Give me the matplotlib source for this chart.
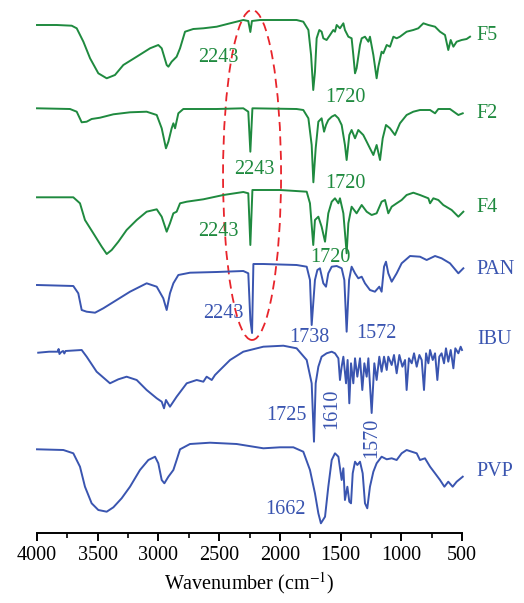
import matplotlib
matplotlib.use("Agg")
from matplotlib import pyplot as plt
from matplotlib.patches import Ellipse

plt.rcParams["font.family"] = ["Liberation Serif", "DejaVu Serif"]
plt.rcParams["mathtext.fontset"] = "stix"

GREEN = "#1f8a3f"
BLUE = "#3a55b0"

# spectra: wavenumber (cm-1) and relative transmittance (a.u.)
f5_wn = [4000, 3838, 3714, 3673, 3618, 3563, 3495, 3426, 3358, 3289, 3179, 3069, 3001,
         2973, 2932, 2918, 2891, 2850, 2822, 2781, 2713, 2630, 2520, 2410, 2301, 2260,
         2243, 2230, 2163, 1862, 1807, 1765, 1743, 1725, 1711, 1697, 1675, 1656, 1642,
         1615, 1587, 1560, 1546, 1532, 1505, 1477, 1464, 1436, 1409, 1395, 1381, 1368,
         1340, 1326, 1299, 1271, 1258, 1230, 1203, 1189, 1162, 1148, 1120, 1093, 1065,
         1038, 1011, 956, 901, 860, 818, 777, 722, 681, 640, 613, 593, 571, 544, 503,
         462, 434]
f5_t = [80, 80, 79.3, 76.7, 63.3, 46.7, 31.7, 26.7, 30, 40, 48.3, 56.7, 60,
        56.7, 40, 38.3, 43.3, 48.3, 56.7, 73.3, 76, 76.7, 78.3, 81.7, 85, 84,
        73, 84, 85, 85, 83.3, 75, 50, 15, 33, 66.7, 75, 73.3, 66.7,
        65, 70, 75, 73.3, 80, 76.7, 81.7, 75, 68.3, 66.7, 50, 31.7, 36.7,
        60, 66.7, 68.3, 63.3, 68.3, 50, 26.7, 38.3, 53.3, 51.7, 60, 58.3, 68.3,
        66.7, 68.3, 73.3, 75, 76.7, 81.7, 80, 78.3, 73.3, 70, 55, 65, 58.3, 63.3, 65,
        66, 68.3]

f2_wn = [4000, 3728, 3673, 3632, 3591, 3550, 3481, 3371, 3234, 3097, 3014, 2973, 2938,
         2918, 2891, 2877, 2863, 2836, 2795, 2520, 2301, 2260, 2243, 2226, 1862, 1807,
         1765, 1738, 1724, 1705, 1683, 1656, 1636, 1620, 1601, 1573, 1546, 1518, 1491,
         1464, 1450, 1428, 1409, 1381, 1354, 1313, 1285, 1258, 1230, 1203, 1175, 1153,
         1126, 1093, 1052, 1011, 956, 901, 846, 763, 722, 695, 599, 530, 494]
f2_t = [86.7, 86, 83.3, 72.7, 73.3, 76, 77.3, 80.7, 82.7, 83.3, 80, 66.7, 46.7,
        53.3, 66.7, 71.7, 66.7, 81.7, 86, 86, 86.7, 83.3, 43.3, 86.7, 86, 85,
        76.7, 50, 12.7, 46.7, 73.3, 76.7, 63.3, 70, 75, 78.3, 80, 76.7, 70,
        50, 35, 60, 65, 56.7, 65, 60, 53.3, 46.7, 40, 50, 35, 56.7,
        70, 66.7, 60, 71.7, 80, 83.3, 85, 85, 81.7, 86, 86, 80, 81.7]

f4_wn = [4000, 3701, 3646, 3605, 3536, 3467, 3426, 3385, 3330, 3262, 3179, 3097, 3014,
         2973, 2932, 2905, 2877, 2850, 2822, 2767, 2630, 2465, 2301, 2260, 2243, 2226,
         1999, 1779, 1752, 1725, 1711, 1683, 1656, 1628, 1601, 1573, 1546, 1518, 1505,
         1477, 1450, 1436, 1409, 1368, 1326, 1285, 1244, 1203, 1162, 1134, 1107, 1079,
         1038, 997, 956, 901, 846, 777, 763, 736, 695, 654, 585, 530, 489]
f4_t = [72.7, 72.7, 66.7, 50, 36.7, 23.3, 16, 20, 28.3, 40, 50, 58.3, 60.7,
        53.3, 38.3, 46.7, 56.7, 58.3, 66.7, 68.3, 70.7, 75, 78, 76.7, 25, 80,
        80, 78.3, 66.7, 25, 50, 53.3, 43.3, 28.3, 56.7, 68.3, 71.7, 66.7, 71.7,
        56.7, 16.7, 46.7, 63.3, 56.7, 65, 58.3, 55, 56.7, 68.3, 70, 56.7, 63.3,
        66.7, 70, 75, 77.3, 75, 71.7, 66.7, 71.7, 70, 65, 60, 53.3, 58.3]

pan_wn = [4000, 3701, 3660, 3632, 3591, 3522, 3454, 3344, 3234, 3097, 3014, 2960, 2932,
          2905, 2877, 2836, 2740, 2520, 2301, 2260, 2243, 2229, 2218, 2136, 1862, 1779,
          1752, 1738, 1711, 1691, 1670, 1642, 1620, 1601, 1573, 1532, 1491, 1469, 1450,
          1430, 1409, 1381, 1354, 1326, 1299, 1258, 1217, 1181, 1162, 1142, 1126, 1107,
          1079, 1038, 997, 928, 846, 791, 722, 668, 599, 530, 489]
pan_t = [55, 54, 46.7, 30, 28.3, 27.3, 31.7, 40, 48.3, 56.7, 53.3, 41.7, 30,
         46.7, 56.7, 65, 67.3, 68, 69, 66.7, 20, 7, 76, 76, 75, 73.3,
         60, 15, 60, 70, 71.7, 56.7, 53.3, 66.7, 73.3, 74, 71.7, 60, 8.3,
         60, 73.3, 66.7, 61.7, 63.3, 56.7, 50, 48.3, 53.3, 48.3, 73.3, 78.3, 66.7,
         58.3, 66.7, 76.7, 84, 83.3, 80, 84, 81.7, 76.7, 66.7, 71.7]

ibu_wn = [3990, 3900, 3830, 3822, 3815, 3800, 3785, 3775, 3765, 3632, 3591, 3509, 3399,
          3330, 3262, 3179, 3097, 3014, 2973, 2954, 2938, 2905, 2850, 2767, 2685, 2630,
          2603, 2561, 2534, 2493, 2410, 2301, 2136, 1971, 1862, 1779, 1738, 1719, 1705,
          1683, 1656, 1615, 1573, 1546, 1518, 1505, 1491, 1477, 1455, 1442, 1428, 1414,
          1395, 1381, 1362, 1340, 1321, 1304, 1285, 1271, 1244, 1222, 1203, 1181, 1162,
          1142, 1120, 1107, 1079, 1060, 1038, 1016, 991, 969, 956, 937, 914, 895, 873,
          851, 832, 813, 796, 777, 763, 741, 722, 703, 687, 668, 648, 632, 613, 593,
          571, 555, 530, 511, 500]
ibu_t = [47.3, 48.3, 48.3, 51, 46, 48, 49, 46.5, 49, 50, 43.3, 28.3, 16.7,
         20.7, 23.3, 20, 10, 1.7, -1.7, -8.3, 0, -6.7, 3.3, 16.7, 20, 18.3,
         23.3, 20, 25, 30, 40, 48.3, 53.3, 54.3, 51.7, 40, 16.7, -41.7, 16.7,
         33.3, 43.3, 46.7, 48.3, 46.7, 41.7, 20, 33.3, 43.3, 16.7, 40, -3.3, 36.7,
         16.7, 41.7, 23.3, 41.7, 10, 36.7, 23.3, 41.7, -13, 36.7, 20, 43.3, 28.3,
         43.3, 30, 43.3, 35, 45, 26.7, 45, 33.3, 40, 10, 41.7, 36.7, 46.7, 33.3,
         45, 40, 10, 46.7, 36.7, 50, 40, 46.7, 20, 43.3, 46.7, 36.7, 51.7, 38.3, 50,
         31.7, 51.7, 46.7, 53.3, 50]

pvp_wn = [4000, 3783, 3701, 3646, 3605, 3550, 3495, 3426, 3371, 3303, 3234, 3152, 3083,
          3028, 3001, 2973, 2951, 2918, 2877, 2850, 2822, 2740, 2575, 2356, 2136, 1999,
          1889, 1807, 1752, 1711, 1683, 1662, 1628, 1601, 1573, 1546, 1518, 1491, 1477,
          1464, 1444, 1428, 1414, 1400, 1381, 1362, 1340, 1318, 1299, 1280, 1258, 1230,
          1203, 1162, 1120, 1079, 1038, 997, 956, 914, 873, 846, 805, 763, 722, 681,
          645, 613, 577, 544, 494]
pvp_t = [70.7, 70, 66.7, 53.3, 33.3, 16.7, 10, 8.3, 12.7, 21.7, 33.3, 50, 60,
         63.3, 56.7, 40, 36.7, 43.3, 50, 60, 70.7, 76, 77.3, 76, 71.7, 72.7,
         72.7, 68.3, 50, 26.7, 6.7, -3.3, 3.3, 33.3, 60, 66.7, 63.3, 40, 51.7,
         20, 33.3, 18.3, 16.7, 46.7, 58.3, 55, 58.3, 46.7, 16.7, 11.7, 33.3, 48.3,
         56.7, 63.3, 60.7, 61.7, 60, 66.7, 70, 68.3, 66.7, 60, 61.7, 53.3, 46.7, 40,
         33.3, 38.3, 33.3, 38.3, 43.3]

names = ["F5", "F2", "F4", "PAN", "IBU", "PVP"]
offsets = [428, 338, 263, 193, 133, 13]
label_y = [498, 420, 325, 264, 193, 61]
colors = [GREEN, GREEN, GREEN, BLUE, BLUE, BLUE]
spectra = [(f5_wn, f5_t), (f2_wn, f2_t), (f4_wn, f4_t),
           (pan_wn, pan_t), (ibu_wn, ibu_t), (pvp_wn, pvp_t)]

# peak annotations: text, wavenumber pos, y pos, colour, rotation
notes = [("2243", 2509, 476, GREEN, 0), ("1720", 1464, 436, GREEN, 0),
         ("2243", 2213, 364, GREEN, 0), ("1720", 1464, 350, GREEN, 0),
         ("2243", 2509, 301, GREEN, 0), ("1720", 1587, 276, GREEN, 0),
         ("2243", 2468, 220, BLUE, 0), ("1738", 1760, 195, BLUE, 0),
         ("1572", 1208, 200, BLUE, 0), ("1725", 1950, 118, BLUE, 0),
         ("1610", 1571, 124, BLUE, 90), ("1570", 1241, 95, BLUE, 90),
         ("1662", 1950, 23, BLUE, 0)]

fig = plt.figure(figsize=(5.24, 6.03), dpi=100)
ax = fig.add_axes([37 / 524, 70 / 603, 425 / 524, 528 / 603])

for (wn, t), off, c in zip(spectra, offsets, colors):
    ax.plot(wn, [v + off for v in t], color=c, lw=1.4, clip_on=False)

for name, y, c in zip(names, label_y, colors):
    ax.text(377, y, name, color=c, fontsize=14.5, ha="left", va="center")

for txt, x, y, c, rot in notes:
    ax.text(x, y, txt, color=c, fontsize=14.5, ha="center", va="center", rotation=rot)

ax.add_patch(Ellipse((2229, 358), 478, 330, fill=False, ec="#e8242b",
                     ls=(0, (5, 3)), lw=1.3, clip_on=False))

ax.set_xlim(4000, 500)
ax.set_ylim(0, 528)
ax.set_xticks(range(4000, 499, -500))
ax.set_xticks(range(3750, 500, -500), minor=True)
ax.set_yticks([])
for s in ["top", "left", "right"]:
    ax.spines[s].set_visible(False)
ax.spines["bottom"].set_linewidth(1.4)
ax.tick_params(axis="x", which="major", length=6, width=1.4, labelsize=14.5, pad=3)
ax.tick_params(axis="x", which="minor", length=3.5, width=1.2)
ax.set_xlabel(r"Wavenumber (cm$^{-1}$)", fontsize=14.5, labelpad=4)
ax.patch.set_alpha(0)

fig.savefig("out.png", dpi=100)
